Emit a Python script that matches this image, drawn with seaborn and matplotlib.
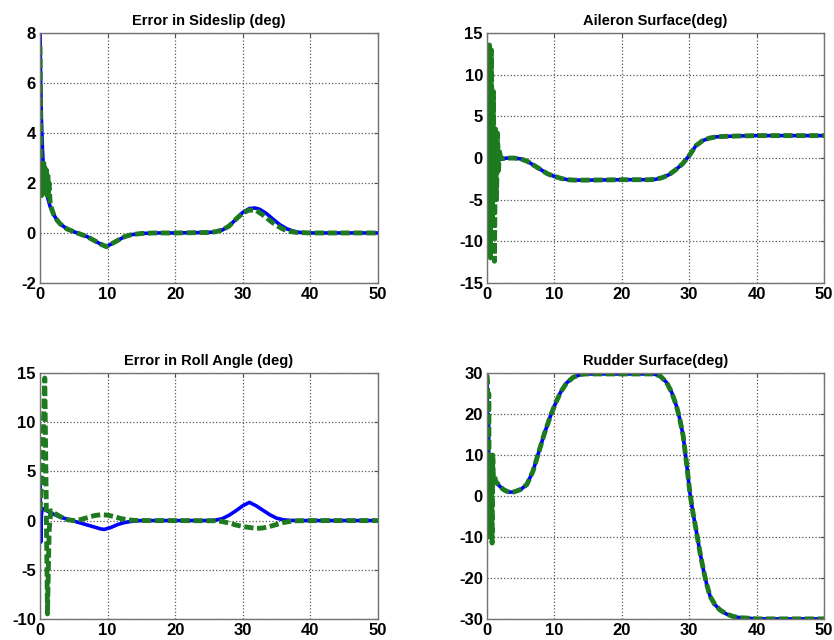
import matplotlib
matplotlib.use("Agg")
import matplotlib.pyplot as plt
import seaborn as sns

# ---- datos (tiempo em s, valores em graus) ----

# Erro de derrapagem (sideslip)
beta_t_blue = [0, 0.1, 0.2, 0.35, 0.5, 0.7, 1.0, 1.5, 2, 2.5, 3, 4, 5, 6, 7, 8, 9, 9.8, 10.5, 11.5,
               12.5, 13.5, 15, 17, 20, 25, 26, 27, 28, 29, 30, 31, 31.8, 32.5, 33.5, 34.5, 35.5,
               36.5, 37.5, 38.5, 40, 45, 50]
beta_blue = [8.0, 6.0, 4.6, 3.4, 2.6, 2.0, 1.55, 1.05, 0.75, 0.52, 0.36, 0.16, 0.05, -0.05, -0.15,
             -0.3, -0.45, -0.55, -0.45, -0.3, -0.15, -0.07, -0.02, 0, 0, 0.02, 0.05, 0.12, 0.28,
             0.55, 0.82, 0.98, 1.0, 0.95, 0.78, 0.55, 0.33, 0.17, 0.07, 0.02, 0, 0, 0]
beta_t_green = [0, 0.08, 0.15, 0.25, 0.35, 0.45, 0.55, 0.65, 0.75, 0.85, 0.95, 1.05, 1.15, 1.25,
                1.35, 1.5, 2, 2.5, 3, 4, 5, 6, 7, 8, 9, 9.8, 10.5, 11.5, 12.5, 13.5, 15, 17, 20,
                25, 26, 27, 28, 29, 30, 31, 32, 33, 34, 35, 36, 37, 38, 40, 45, 50]
beta_green = [7.5, 4.5, 2.8, 1.5, 2.7, 1.6, 2.8, 1.5, 2.6, 1.6, 2.6, 1.5, 2.4, 1.6, 2.0, 1.15,
              0.75, 0.52, 0.36, 0.16, 0.05, -0.05, -0.15, -0.3, -0.45, -0.55, -0.45, -0.3, -0.15,
              -0.07, -0.02, 0, 0, 0.02, 0.05, 0.12, 0.28, 0.55, 0.8, 0.92, 0.9, 0.72, 0.5, 0.3,
              0.15, 0.06, 0.02, 0, 0, 0]

# Superfície do aileron
ail_t_blue = [0, 0.2, 0.4, 0.6, 0.8, 1.0, 1.3, 1.6, 2, 2.5, 3, 4, 5, 6, 7, 8, 9, 10, 11, 12, 13,
              15, 20, 24, 25, 26, 27, 28, 29, 29.5, 30, 30.5, 31, 32, 33, 34, 35, 37, 40, 45, 50]
ail_blue = [0, -0.5, -1.0, -0.8, -0.6, -0.5, -0.4, -0.3, -0.15, -0.05, 0, 0, -0.1, -0.4, -0.9,
            -1.4, -1.9, -2.2, -2.45, -2.6, -2.65, -2.65, -2.6, -2.6, -2.55, -2.35, -2.0, -1.4,
            -0.7, -0.2, 0.3, 0.9, 1.5, 2.1, 2.4, 2.55, 2.6, 2.65, 2.7, 2.7, 2.7]
ail_t_green = [0, 0.2, 0.35, 0.5, 0.65, 0.8, 0.95, 1.1, 1.25, 1.4, 1.55, 1.7, 1.85, 2.0, 2.5, 3,
               4, 5, 6, 7, 8, 9, 10, 11, 12, 13, 15, 20, 24, 25, 26, 27, 28, 29, 29.5, 30, 30.5,
               31, 32, 33, 34, 35, 37, 40, 45, 50]
ail_green = [0, -12.2, 13.6, -12.0, 13.0, -8.0, 8.0, -12.4, 3.5, -5.0, 3.0, -1.5, 1.0, 0.0,
             -0.05, 0, 0, -0.1, -0.4, -0.9, -1.4, -1.9, -2.2, -2.45, -2.6, -2.65, -2.65, -2.6,
             -2.6, -2.55, -2.35, -2.0, -1.4, -0.7, -0.2, 0.3, 0.9, 1.5, 2.1, 2.4, 2.55, 2.6,
             2.65, 2.7, 2.7, 2.7]

# Erro no ângulo de rolagem
roll_t_blue = [0, 0.1, 0.2, 0.3, 0.5, 1, 2, 3, 4, 5, 6, 7, 8, 9, 9.5, 10.5, 11.5, 12.5, 13.5, 15,
               20, 25, 26, 27, 28, 29, 30, 31, 32, 33, 34, 35, 36, 37, 38, 40, 50]
roll_blue = [4.5, -2.2, 0.5, 1.2, 1.2, 1.0, 0.65, 0.35, 0.15, -0.05, -0.25, -0.45, -0.65, -0.85,
             -0.9, -0.7, -0.4, -0.2, -0.08, 0, 0, 0, 0.05, 0.2, 0.55, 1.0, 1.5, 1.85, 1.5, 1.05,
             0.6, 0.25, 0.08, 0.02, 0, 0, 0]
roll_t_green = [0, 0.3, 0.7, 0.9, 1.1, 1.35, 1.6, 2, 3, 4, 5, 6, 7, 8, 9, 10, 11, 12, 13, 14, 16,
                20, 26, 27, 28, 29, 30, 31, 32, 33, 34, 35, 36, 37, 38, 40, 50]
roll_green = [1.0, 5.0, 14.5, 3.0, -9.5, -1.0, 1.0, 0.8, 0.4, 0.1, 0.0, 0.1, 0.3, 0.5, 0.6, 0.55,
              0.4, 0.2, 0.08, 0.02, 0, 0, -0.02, -0.1, -0.25, -0.45, -0.6, -0.7, -0.8, -0.75,
              -0.6, -0.4, -0.2, -0.08, -0.02, 0, 0]

# Superfície do leme
rud_t_blue = [0, 0.1, 0.2, 0.3, 0.4, 0.5, 0.6, 0.7, 0.8, 1.0, 1.5, 2, 2.5, 3, 3.45, 4, 5, 5.9,
              6.8, 7.65, 8.5, 9.4, 10.2, 10.9, 11.8, 12.8, 14, 14.8, 20, 24.7, 25.7, 26.65, 27.4,
              28.1, 28.6, 29.1, 29.6, 30.1, 30.6, 31.1, 31.6, 32.1, 32.6, 33.1, 33.8, 34.55,
              35.5, 36.5, 37.5, 38.5, 40, 50]
rud_blue = [29.5, -9.5, 20, -9.5, 10, -9.8, 8, -6, 5, 3.5, 3.0, 2.2, 1.5, 1.1, 0.94, 1.0, 1.6, 2.8,
            6.0, 10.6, 15.2, 19.5, 22.8, 25.3, 27.6, 29.0, 29.7, 29.8, 29.8, 29.8, 29.3, 27.7,
            25.3, 22.0, 18.8, 14.7, 8.0, 0.8, -4.5, -9.0, -13.8, -18.0, -21.6, -24.5, -26.5,
            -27.8, -28.8, -29.4, -29.7, -29.8, -30, -30]
rud_t_green = [0, 0.08, 0.16, 0.25, 0.35, 0.45, 0.55, 0.65, 0.75, 0.85, 0.95, 1.1, 1.3, 1.6, 2,
               2.5, 3, 3.45, 4, 5, 5.9, 6.8, 7.65, 8.5, 9.4, 10.2, 10.9, 11.8, 12.8, 14, 14.8, 20,
               24.7, 25.7, 26.65, 27.4, 28.1, 28.6, 29.1, 29.6, 30.1, 30.6, 31.1, 31.6, 32.1,
               32.6, 33.1, 33.8, 34.55, 35.5, 36.5, 37.5, 38.5, 40, 50]
rud_green = [29.5, 28, -8, 25, -10, 10, -10, 8, -11.5, 10, 3, 5, 3.5, 3.0, 2.2, 1.5, 1.1, 0.94,
             1.0, 1.6, 2.8, 6.0, 10.6, 15.2, 19.5, 22.8, 25.3, 27.6, 29.0, 29.7, 29.8, 29.8,
             29.8, 29.3, 27.7, 25.3, 22.0, 18.8, 14.7, 8.0, 0.8, -4.5, -9.0, -13.8, -18.0,
             -21.6, -24.5, -26.5, -27.8, -28.8, -29.4, -29.7, -29.8, -30, -30]

titulos = ["Error in Sideslip (deg)", "Aileron Surface(deg)",
           "Error in Roll Angle (deg)", "Rudder Surface(deg)"]
yticks = [[-2, 0, 2, 4, 6, 8], [-15, -10, -5, 0, 5, 10, 15],
          [-10, -5, 0, 5, 10, 15], [-30, -20, -10, 0, 10, 20, 30]]
xticks = [0, 10, 20, 30, 40, 50]

series = [(beta_t_blue, beta_blue, beta_t_green, beta_green),
          (ail_t_blue, ail_blue, ail_t_green, ail_green),
          (roll_t_blue, roll_blue, roll_t_green, roll_green),
          (rud_t_blue, rud_blue, rud_t_green, rud_green)]

# ---- estilo ----
sns.set_style("whitegrid", {"grid.linestyle": ":", "grid.color": "0.35",
                            "axes.edgecolor": "0.45", "text.color": "black",
                            "xtick.color": "black", "ytick.color": "black"})
plt.rcParams["font.family"] = ["Liberation Sans", "DejaVu Sans"]
plt.rcParams["font.weight"] = "bold"
plt.rcParams["axes.unicode_minus"] = False  # hífen simples como no original

fig = plt.figure(figsize=(8.34, 6.4), dpi=100)

# posições dos eixos (left, bottom, width, height)
posicoes = [[0.048, 0.558, 0.405, 0.390], [0.584, 0.558, 0.404, 0.390],
            [0.048, 0.033, 0.405, 0.384], [0.584, 0.033, 0.404, 0.384]]

for k in range(4):
    ax = fig.add_axes(posicoes[k])
    tb, yb, tg, yg = series[k]
    sns.lineplot(x=tb, y=yb, ax=ax, color="#0000ff", lw=2.6, estimator=None, sort=False)
    sns.lineplot(x=tg, y=yg, ax=ax, color="#1e7a1e", lw=3.5, estimator=None, sort=False,
                 linestyle=(0, (1.9, 0.75)), dash_capstyle="butt")
    ax.set_xlim(0, 50)
    ax.set_ylim(yticks[k][0], yticks[k][-1])
    ax.set_xticks(xticks)
    ax.set_yticks(yticks[k])
    ax.set_title(titulos[k], fontsize=10.5, fontweight="bold", pad=6, color="black")
    ax.tick_params(labelsize=12, direction="in", length=3, pad=3,
                   top=True, right=True, color="0.3", labelcolor="black")
    for lab in ax.get_xticklabels() + ax.get_yticklabels():
        lab.set_fontweight("bold")
    ax.grid(True, linestyle=":", color="0.35", lw=0.9)
    for s in ax.spines.values():
        s.set_linewidth(1.0)

plt.savefig("out.png", dpi=100)
